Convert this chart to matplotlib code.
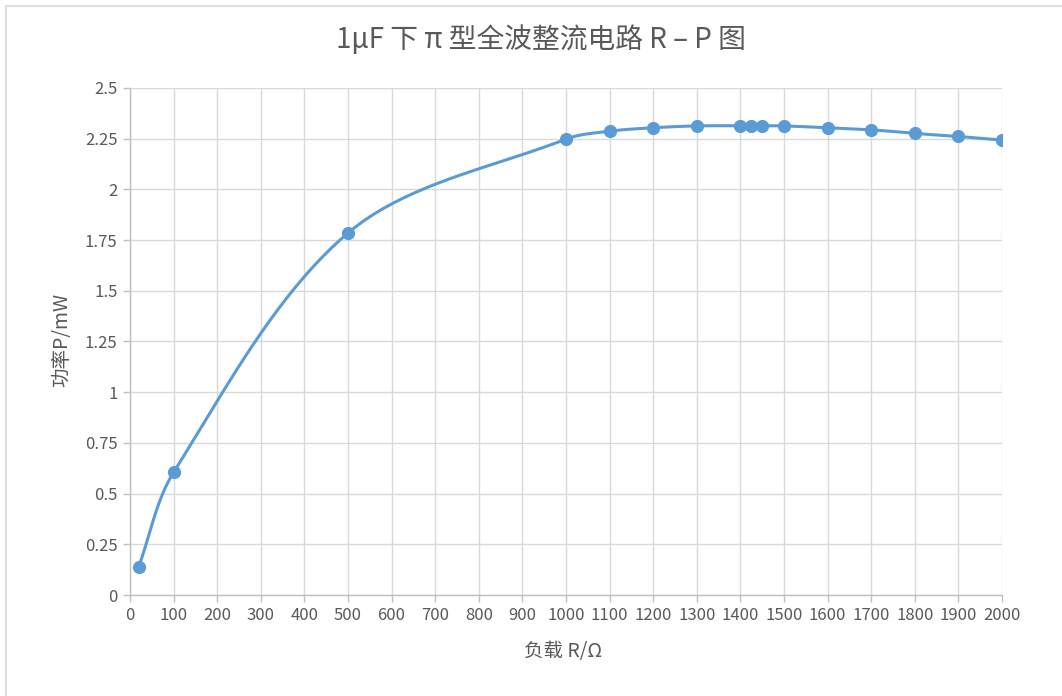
import numpy as np
import matplotlib
matplotlib.use("Agg")
import matplotlib.pyplot as plt
from matplotlib.patches import Rectangle

plt.rcParams['font.family'] = ['Noto Sans CJK SC', 'DejaVu Sans']

# 负载电阻 (Ω) 与对应功率 (mW)
resistance = [20, 100, 500, 1000, 1100, 1200, 1300, 1400, 1425, 1450,
              1500, 1600, 1700, 1800, 1900, 2000]
power = [0.14, 0.605, 1.785, 2.248, 2.287, 2.304, 2.313, 2.314, 2.314, 2.314,
         2.313, 2.304, 2.294, 2.276, 2.261, 2.243]

x_ticks = list(range(0, 2001, 100))
y_ticks = [0, 0.25, 0.5, 0.75, 1, 1.25, 1.5, 1.75, 2, 2.25, 2.5]
y_tick_labels = ["0", "0.25", "0.5", "0.75", "1", "1.25", "1.5", "1.75", "2", "2.25", "2.5"]

BLUE = "#5b9bd5"
TEXT = "#595959"
GRID = "#d9d9d9"
AXIS = "#bfbfbf"

# 绘图区尺寸 (像素)
W, H = 872, 507


def smooth_curve(xs, ys, sx, sy, n=40):
    """平滑连线: 分段三次贝塞尔, 切线按相邻段长度比例缩放, 避免过冲"""
    pts = np.column_stack([np.asarray(xs) * sx, np.asarray(ys) * sy]).astype(float)
    out = []
    m = len(pts)
    for i in range(m - 1):
        p0 = pts[i - 1] if i > 0 else pts[i]
        p1, p2 = pts[i], pts[i + 1]
        p3 = pts[i + 2] if i + 2 < m else pts[i + 1]
        d01 = np.linalg.norm(p1 - p0)
        d12 = np.linalg.norm(p2 - p1)
        d23 = np.linalg.norm(p3 - p2)
        f1 = d12 / (d01 + d12) if d01 + d12 > 0 else 0
        f2 = d12 / (d12 + d23) if d12 + d23 > 0 else 0
        c1 = p1 + (p2 - p0) * f1 / 3
        c2 = p2 - (p3 - p1) * f2 / 3
        t = np.linspace(0, 1, n)[:, None]
        seg = ((1 - t) ** 3) * p1 + 3 * ((1 - t) ** 2) * t * c1 \
            + 3 * (1 - t) * t ** 2 * c2 + t ** 3 * p2
        out.append(seg if i == 0 else seg[1:])
    curve = np.vstack(out)
    return curve[:, 0] / sx, curve[:, 1] / sy


fig = plt.figure(figsize=(10.62, 6.96), dpi=100)
ax = fig.add_axes([130 / 1062, 1 - 595 / 696, W / 1062, H / 696])

# 图表外框
fig.patches.append(Rectangle((6 / 1062, -0.1), 1.2, 1 - 6 / 696 + 0.1,
                             transform=fig.transFigure, fill=False,
                             edgecolor=GRID, linewidth=1.2))

cx, cy = smooth_curve(resistance, power, W / 2000, H / 2.5)
ax.plot(cx, cy, color=BLUE, linewidth=2.2, zorder=3, solid_capstyle="round")
ax.plot(resistance, power, linestyle="none", marker="o", markersize=8.5,
        color=BLUE, zorder=4)

ax.set_xlim(0, 2000)
ax.set_ylim(0, 2.5)
ax.set_xticks(x_ticks)
ax.set_yticks(y_ticks)
ax.set_yticklabels(y_tick_labels)
ax.grid(True, color=GRID, linewidth=1.0)
ax.set_axisbelow(True)

for side in ("top", "right"):
    ax.spines[side].set_visible(False)
for side in ("left", "bottom"):
    ax.spines[side].set_color(AXIS)
    ax.spines[side].set_linewidth(1.0)
ax.tick_params(axis="both", colors=AXIS, labelcolor=TEXT, labelsize=12,
               length=5, width=1.0, direction="out")
ax.tick_params(axis="x", pad=4)
ax.tick_params(axis="y", pad=4)

fig.text(541 / 1062, 1 - 40 / 696, "1μF 下 π 型全波整流电路 R – P 图",
         ha="center", va="center", fontsize=20, color=TEXT)
fig.text(563 / 1062, 1 - 652 / 696, "负载 R/Ω", ha="center", va="center",
         fontsize=14, color=TEXT)
fig.text(62 / 1062, 1 - 340 / 696, "功率P/mW", ha="center", va="center",
         rotation=90, fontsize=14, color=TEXT)

fig.savefig("out.png", dpi=100)
